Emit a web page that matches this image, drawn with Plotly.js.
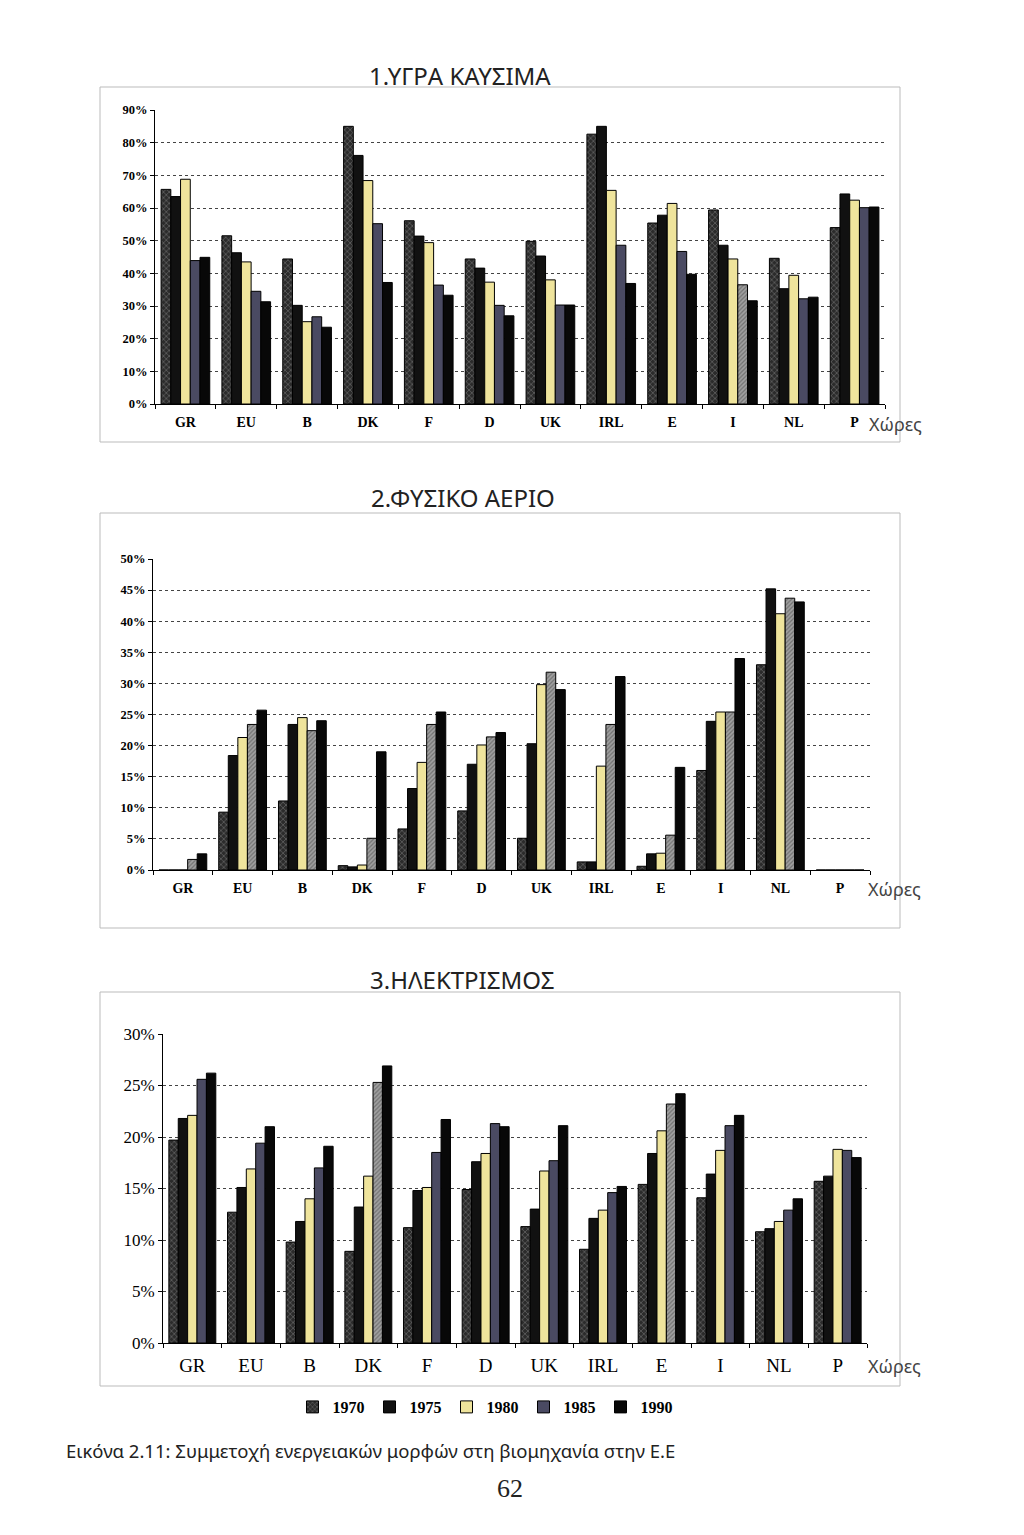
<!DOCTYPE html>
<html>
<head>
<meta charset="utf-8">
<script src="https://cdn.plot.ly/plotly-3.0.1.min.js"></script>
<style>
  html, body { margin: 0; padding: 0; background: #ffffff; }
  #chart { width: 1024px; height: 1535px; }
</style>
</head>
<body>
<div id="chart"></div>
<script>
// ---------- DATA ----------
const countries = ["GR", "EU", "B", "DK", "F", "D", "UK", "IRL", "E", "I", "NL", "P"];
const years = ["1970", "1975", "1980", "1985", "1990"];

// 1. Liquid fuels (%)
const liquid1970 = [65.7, 51.5, 44.4, 85.0, 56.1, 44.4, 49.8, 82.6, 55.4, 59.4, 44.6, 54.0];
const liquid1975 = [63.5, 46.3, 30.2, 76.1, 51.4, 41.6, 45.3, 85.0, 57.8, 48.6, 35.3, 64.3];
const liquid1980 = [68.8, 43.5, 25.2, 68.4, 49.4, 37.3, 38.0, 65.4, 61.4, 44.4, 39.4, 62.4];
const liquid1985 = [43.9, 34.5, 26.7, 55.2, 36.4, 30.2, 30.3, 48.6, 46.7, 36.5, 32.2, 60.1];
const liquid1990 = [44.9, 31.3, 23.5, 37.2, 33.3, 27.0, 30.3, 36.9, 39.7, 31.6, 32.7, 60.3];

// 2. Natural gas (%)
const gas1970 = [0, 9.3, 11.1, 0.7, 6.6, 9.5, 5.1, 1.3, 0.6, 16.0, 33.0, 0];
const gas1975 = [0, 18.4, 23.4, 0.5, 13.1, 17.0, 20.3, 1.3, 2.6, 23.9, 45.2, 0];
const gas1980 = [0, 21.3, 24.5, 0.8, 17.3, 20.1, 29.8, 16.7, 2.7, 25.4, 41.2, 0];
const gas1985 = [1.7, 23.4, 22.4, 5.1, 23.4, 21.4, 31.8, 23.4, 5.6, 25.4, 43.7, 0];
const gas1990 = [2.6, 25.7, 24.0, 19.0, 25.4, 22.1, 29.0, 31.1, 16.5, 34.0, 43.1, 0];

// 3. Electricity (%)
const elec1970 = [19.7, 12.7, 9.8, 8.9, 11.2, 14.9, 11.3, 9.1, 15.4, 14.1, 10.8, 15.7];
const elec1975 = [21.8, 15.1, 11.8, 13.2, 14.8, 17.6, 13.0, 12.1, 18.4, 16.4, 11.1, 16.2];
const elec1980 = [22.1, 16.9, 14.0, 16.2, 15.1, 18.4, 16.7, 12.9, 20.6, 18.7, 11.8, 18.8];
const elec1985 = [25.6, 19.4, 17.0, 25.3, 18.5, 21.3, 17.7, 14.6, 23.2, 21.1, 12.9, 18.7];
const elec1990 = [26.2, 21.0, 19.1, 26.9, 21.7, 21.0, 21.1, 15.2, 24.2, 22.1, 14.0, 18.0];

// ---------- STYLES ----------
const W = 1024, H = 1535;
const px = x => x / W;
const py = y => 1 - y / H;

const serif = "Liberation Serif, DejaVu Serif, serif";
const sans = "Noto Sans, DejaVu Sans, sans-serif";

const solidP = {shape: ""};
const darkHatch = {shape: "x", fgcolor: "#7a7a7a", bgcolor: "#2b2b2b", size: 4, solidity: 0.25};

function baseStyle(yearIdx) {
  if (yearIdx === 0) return {color: "#2b2b2b", pattern: darkHatch};
  if (yearIdx === 1) return {color: "#111111", pattern: solidP};
  if (yearIdx === 2) return {color: "#efe49c", pattern: solidP};
  if (yearIdx === 3) return {color: "#4a4a62", pattern: solidP};
  return {color: "#080808", pattern: solidP};
}

// which country indices draw the 1985 bar with the light hatched fill
const hatch1985 = {
  1: [9],
  2: [0,1,2,3,4,5,6,7,8,9,10,11],
  3: [3, 8]
};

const datasets = {
  1: [liquid1970, liquid1975, liquid1980, liquid1985, liquid1990],
  2: [gas1970, gas1975, gas1980, gas1985, gas1990],
  3: [elec1970, elec1975, elec1980, elec1985, elec1990]
};

const traces = [];
[1, 2, 3].forEach(chart => {
  datasets[chart].forEach((vals, yi) => {
    const st = baseStyle(yi);
    let marker;
    if (yi === 3) {
      const colors = countries.map((c, ci) => hatch1985[chart].includes(ci) ? "#a0a0a0" : st.color);
      const shapes = countries.map((c, ci) => hatch1985[chart].includes(ci) ? "/" : "");
      marker = {
        color: colors,
        line: {color: "#000", width: 1},
        pattern: {shape: shapes, fillmode: "overlay", fgcolor: "#2e2e2e", size: 3, solidity: 0.4}
      };
    } else {
      marker = {color: st.color, line: {color: "#000", width: 1}, pattern: st.pattern};
    }
    traces.push({
      type: "bar",
      x: countries,
      y: vals,
      name: years[yi],
      xaxis: chart === 1 ? "x" : "x" + chart,
      yaxis: chart === 1 ? "y" : "y" + chart,
      marker: marker,
      showlegend: chart === 3,
      legendgroup: years[yi],
      hoverinfo: "skip"
    });
  });
});

const gridCommon = {
  showgrid: true,
  gridcolor: "#444",
  griddash: "dot",
  gridwidth: 1,
  showline: true,
  linecolor: "#000",
  linewidth: 1,
  ticks: "outside",
  ticklen: 4,
  tickcolor: "#000",
  zeroline: false,
  ticksuffix: "%"
};
const xCommon = {
  type: "category",
  showgrid: false,
  showline: true,
  linecolor: "#000",
  linewidth: 1,
  ticks: "outside",
  tickson: "boundaries",
  ticklen: 4,
  tickcolor: "#000",
  zeroline: false,
  ticklabelstandoff: 5
};

function ann(text, x, y, size, family, color, xanchor) {
  return {text: text, x: px(x), y: py(y), xref: "paper", yref: "paper",
    xanchor: xanchor || "center", yanchor: "middle", showarrow: false,
    font: {family: family, size: size, color: color}};
}

const layout = {
  width: W,
  height: H,
  margin: {l: 0, r: 0, t: 0, b: 0},
  paper_bgcolor: "#ffffff",
  plot_bgcolor: "rgba(0,0,0,0)",
  barmode: "group",
  bargap: 0.2,
  bargroupgap: 0,
  showlegend: true,
  legend: {
    orientation: "h",
    x: px(485), xanchor: "center",
    y: py(1407), yanchor: "middle",
    font: {family: serif, size: 16, color: "#000", weight: "bold"},
    itemwidth: 30,
    tracegroupgap: 0,
    traceorder: "normal",
    bgcolor: "rgba(0,0,0,0)"
  },
  xaxis: Object.assign({}, xCommon, {
    domain: [px(155), px(885)], anchor: "y",
    tickfont: {family: serif, size: 14, color: "#000", weight: "bold"}
  }),
  yaxis: Object.assign({}, gridCommon, {
    domain: [py(404), py(110)], anchor: "x",
    range: [0, 90], dtick: 10,
    tickfont: {family: serif, size: 12.5, color: "#000", weight: "bold"}
  }),
  xaxis2: Object.assign({}, xCommon, {
    domain: [px(153), px(870)], anchor: "y2",
    tickfont: {family: serif, size: 14, color: "#000", weight: "bold"}
  }),
  yaxis2: Object.assign({}, gridCommon, {
    domain: [py(870), py(559)], anchor: "x2",
    range: [0, 50], dtick: 5,
    tickfont: {family: serif, size: 12.5, color: "#000", weight: "bold"}
  }),
  xaxis3: Object.assign({}, xCommon, {
    domain: [px(163), px(867)], anchor: "y3",
    tickfont: {family: serif, size: 19, color: "#000"}
  }),
  yaxis3: Object.assign({}, gridCommon, {
    domain: [py(1343), py(1034)], anchor: "x3",
    range: [0, 30], dtick: 5,
    tickfont: {family: serif, size: 17, color: "#000"}
  }),
  shapes: [
    {type: "rect", xref: "paper", yref: "paper", x0: px(100), x1: px(900), y0: py(442), y1: py(87),
     line: {color: "#bbbbbb", width: 1}},
    {type: "rect", xref: "paper", yref: "paper", x0: px(100), x1: px(900), y0: py(928), y1: py(513),
     line: {color: "#bbbbbb", width: 1}},
    {type: "rect", xref: "paper", yref: "paper", x0: px(100), x1: px(900), y0: py(1386), y1: py(992),
     line: {color: "#bbbbbb", width: 1}}
  ],
  annotations: [
    ann("1.ΥΓΡΑ ΚΑΥΣΙΜΑ", 460, 75, 24, sans, "#222"),
    ann("2.ΦΥΣΙΚΟ ΑΕΡΙΟ", 463, 497, 24, sans, "#222"),
    ann("3.ΗΛΕΚΤΡΙΣΜΟΣ", 462, 980, 24, sans, "#222"),
    ann("Χώρες", 867, 424, 18, sans, "#444", "left"),
    ann("Χώρες", 866, 889, 18, sans, "#444", "left"),
    ann("Χώρες", 866, 1366, 18, sans, "#444", "left"),
    ann("Εικόνα 2.11: Συμμετοχή ενεργειακών μορφών στη βιομηχανία στην Ε.Ε", 64, 1450, 18.5, sans, "#222", "left"),
    ann("62", 510, 1488, 26, serif, "#222")
  ]
};

Plotly.newPlot("chart", traces, layout, {displayModeBar: false, staticPlot: true});
</script>
</body>
</html>
